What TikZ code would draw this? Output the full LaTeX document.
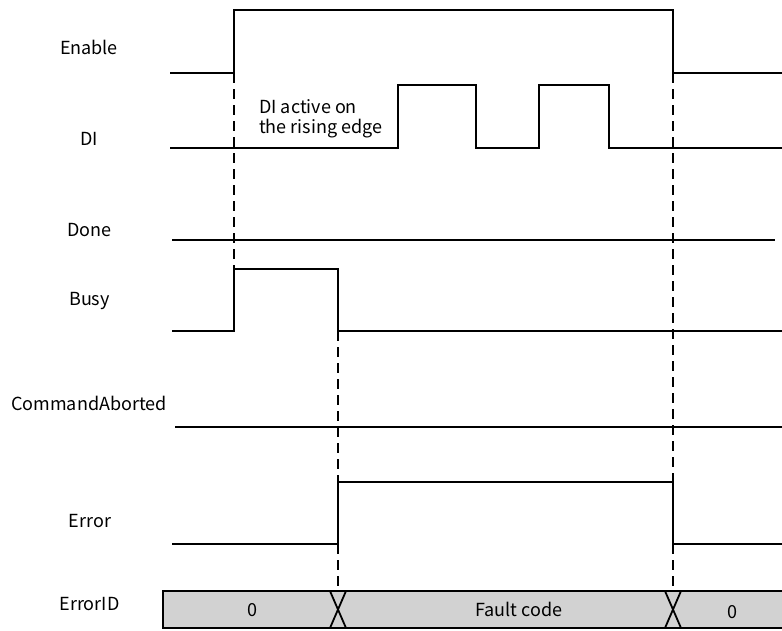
\documentclass[tikz,border=0pt]{standalone}
\usepackage{fontspec}
\setmainfont{Noto Sans CJK SC}
\begin{document}
\begin{tikzpicture}[x=1pt,y=-1pt,
  wave/.style={line width=1.8pt, line join=miter},
  guide/.style={line width=1.8pt, dash pattern=on 10pt off 6pt},
  lbl/.style={font=\fontsize{18}{20}\selectfont, inner sep=0pt, anchor=base},
  barlbl/.style={font=\fontsize{18}{20}\selectfont, inner sep=0pt, anchor=base}]
\useasboundingbox (0,0) rectangle (782,630);
% labels
\node[lbl] (lEnable) at (89,54) {Enable};
\node[lbl] (lDI) at (89,145) {DI};
\node[lbl] (lDone) at (89.5,236) {Done};
\node[lbl] (lBusy) at (89.5,305) {Busy};
\node[lbl] (lCA) at (89,410) {CommandAborted};
\node[lbl] (lErr) at (90,527) {Error};
\node[lbl] (lEID) at (89.5,610) {ErrorID};
\node[lbl, anchor=base west] (note1) at (259,113) {DI active on};
\node[lbl, anchor=base west] (note2) at (259,133) {the rising edge};
% waveforms
\draw[wave] (170,73) -- (234,73) -- (234,10) -- (673,10) -- (673,73) -- (782,73);
\draw[wave] (170,148) -- (398,148) -- (398,85) -- (476,85) -- (476,148) -- (539,148) -- (539,85) -- (609,85) -- (609,148) -- (782,148);
\draw[wave] (172,240) -- (775,240);
\draw[wave] (172,331) -- (234,331) -- (234,269) -- (338,269) -- (338,331) -- (782,331);
\draw[wave] (175,427) -- (782,427);
\draw[wave] (172,544) -- (338,544) -- (338,482) -- (673,482) -- (673,544) -- (782,544);
% ErrorID bar
\coordinate (b0) at (163,591);
\coordinate (b1) at (783,628);
\fill[gray!35] (b0) rectangle (b1);
\draw[wave] (783,591) -- (163,591) -- (163,628) -- (783,628);
\draw[wave] (330,591) -- (346,628);
\draw[wave] (346,591) -- (330,628);
\draw[wave] (665,591) -- (681,628);
\draw[wave] (681,591) -- (665,628);
\node[barlbl] (v0) at (252,616) {0};
\node[barlbl] (vF) at (519,616) {Fault code};
\node[barlbl] (v1) at (732,618) {0};
% guides
\draw[guide] (234,73) -- (234,269);
\draw[guide] (338,331) -- (338,482);
\draw[guide] (338,544) -- (338,591);
\draw[guide] (673,73) -- (673,482);
\draw[guide] (673,544) -- (673,591);
\end{tikzpicture}
\end{document}
